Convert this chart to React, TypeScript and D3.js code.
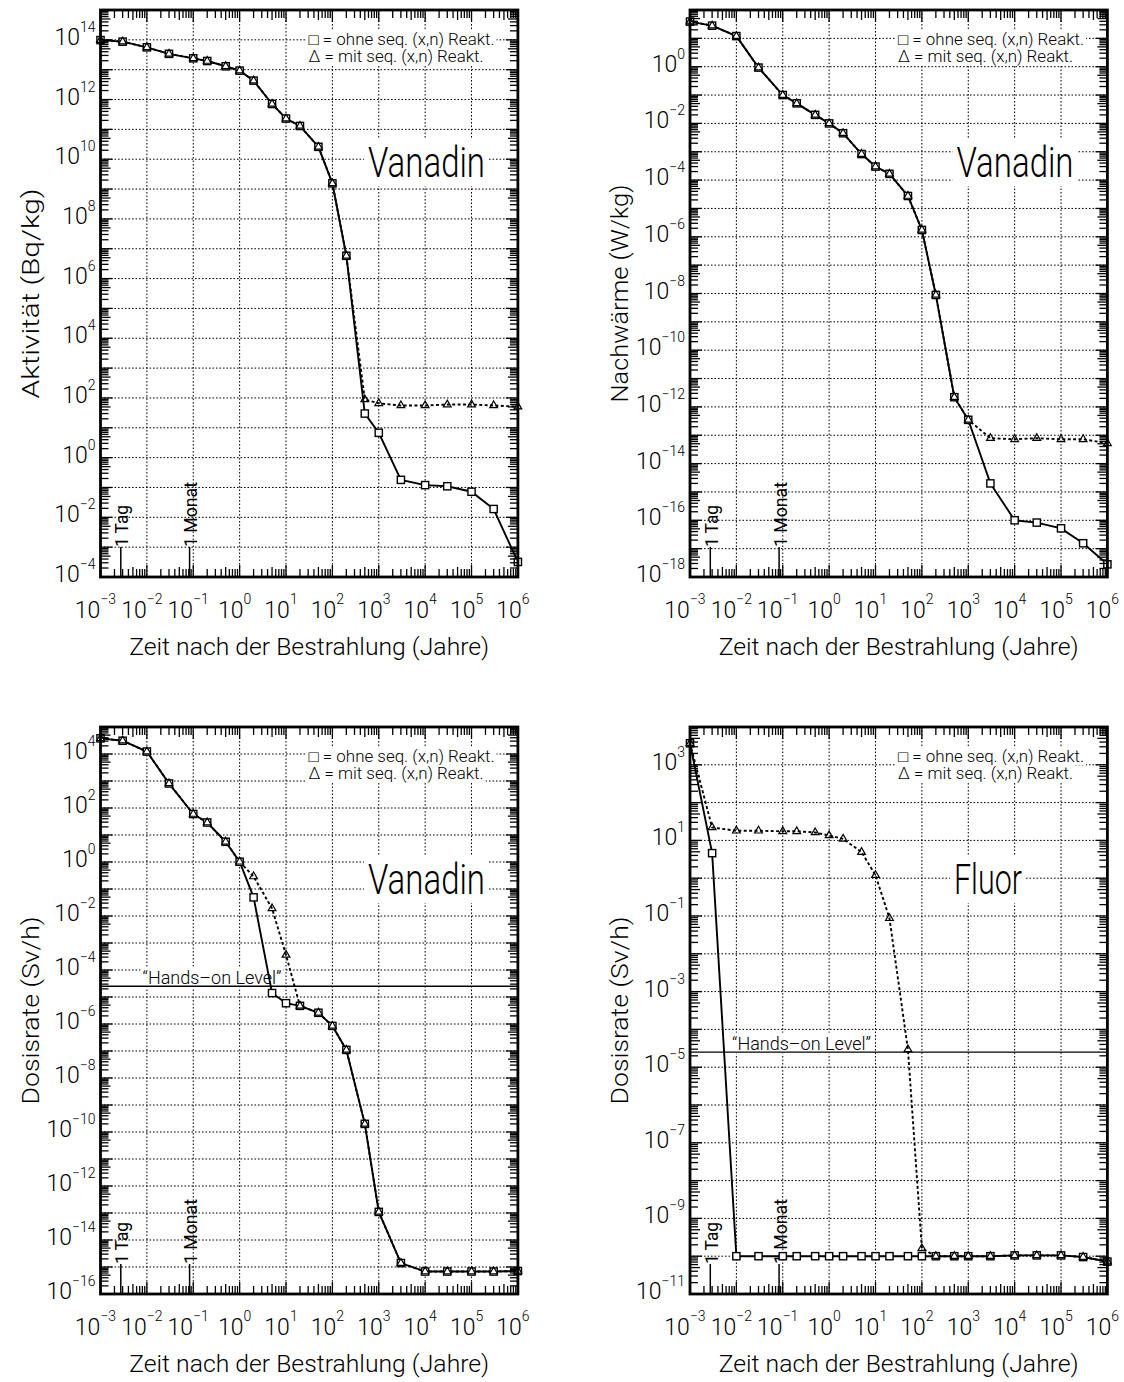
import React, { useEffect, useRef } from "react";
import * as d3 from "d3";

// Zeitpunkte nach der Bestrahlung (Jahre) - gleich fuer alle vier Bilder
const times = [1e-3, 3e-3, 1e-2, 3e-2, 0.1, 0.2, 0.5, 1, 2, 5, 10, 20, 50, 100, 200, 500, 1e3, 3e3, 1e4, 3e4, 1e5, 3e5, 1e6];
const xExponents = [-3, -2, -1, 0, 1, 2, 3, 4, 5, 6];

// Vanadin, Aktivitaet (Bq/kg)
const aktOhne = [9.8e13, 8.7e13, 5.6e13, 3.4e13, 2.4e13, 1.95e13, 1.3e13, 9.3e12, 4.3e12, 7.1e11, 2.3e11, 1.3e11, 2.6e10, 1.55e9, 5.8e6, 30, 6.8, 0.18, 0.12, 0.11, 0.072, 0.019, 3.2e-4];
const aktMit = [9.8e13, 8.7e13, 5.6e13, 3.4e13, 2.4e13, 1.95e13, 1.3e13, 9.3e12, 4.3e12, 7.1e11, 2.3e11, 1.3e11, 2.6e10, 1.55e9, 5.8e6, 89, 66, 56, 56, 60, 60, 56, 51];
const aktYLabels = [14, 12, 10, 8, 6, 4, 2, 0, -2, -4];

// Vanadin, Nachwaerme (W/kg)
const nwOhne = [39, 28, 12, 0.93, 0.1, 0.051, 0.02, 0.01, 4.5e-3, 8.3e-4, 3.0e-4, 1.66e-4, 2.75e-5, 1.74e-6, 8.9e-9, 2.2e-12, 3.5e-13, 2.0e-15, 1.0e-16, 8.3e-17, 5.2e-17, 1.55e-17, 2.8e-18];
const nwMit = [39, 28, 12, 0.93, 0.1, 0.051, 0.02, 0.01, 4.5e-3, 8.3e-4, 3.0e-4, 1.66e-4, 2.75e-5, 1.74e-6, 8.9e-9, 2.2e-12, 3.5e-13, 7.9e-14, 7.2e-14, 7.9e-14, 7.2e-14, 7.2e-14, 5.2e-14];
const nwYLabels = [0, -2, -4, -6, -8, -10, -12, -14, -16, -18];

// Vanadin, Dosisrate (Sv/h)
const vDoseOhne = [3.8e4, 3.1e4, 1.23e4, 810, 60, 29, 5.6, 1.02, 0.049, 1.4e-5, 5.9e-6, 4.7e-6, 2.6e-6, 8.5e-7, 1.1e-7, 2.0e-10, 1.1e-13, 1.4e-15, 6.8e-16, 6.8e-16, 6.8e-16, 6.8e-16, 7.1e-16];
const vDoseMit = [3.8e4, 3.1e4, 1.23e4, 810, 60, 29, 5.6, 1.02, 0.29, 0.019, 3.6e-4, 4.7e-6, 2.6e-6, 8.5e-7, 1.1e-7, 2.0e-10, 1.1e-13, 1.4e-15, 6.8e-16, 6.8e-16, 6.8e-16, 6.8e-16, 7.1e-16];
const vDoseYLabels = [4, 2, 0, -2, -4, -6, -8, -10, -12, -14, -16];

// Fluor, Dosisrate (Sv/h)
const fDoseOhne = [3700, 4.6, 1.0e-10, 1.0e-10, 1.0e-10, 1.0e-10, 1.0e-10, 1.0e-10, 1.0e-10, 1.0e-10, 1.0e-10, 1.0e-10, 1.0e-10, 1.0e-10, 1.0e-10, 1.0e-10, 1.0e-10, 1.0e-10, 1.05e-10, 1.05e-10, 1.05e-10, 0.95e-10, 7.2e-11];
const fDoseMit = [3700, 22, 18, 18, 17.4, 17.4, 16.2, 13.5, 11, 4.9, 1.2, 0.087, 2.95e-5, 1.6e-10, 1.0e-10, 1.0e-10, 1.0e-10, 1.0e-10, 1.05e-10, 1.05e-10, 1.05e-10, 0.95e-10, 7.2e-11];
const fDoseYLabels = [3, 1, -1, -3, -5, -7, -9, -11];

const handsOnLevel = 2.5e-5;
const oneDay = 1 / 365;
const oneMonth = 1 / 12;

const FONT = "Roboto, 'Liberation Sans', Arial, sans-serif";
const PW = 417.4;
const PH = 567;

const panels = [
    { left: 100.5, top: 10, yDomain: [1e-4, 1e15], yLabels: aktYLabels, ohne: aktOhne, mit: aktMit, yTitle: "Aktivität (Bq/kg)", titleLen: 210, name: "Vanadin", nameDx: 326, nameLen: 117, handsOn: false },
    { left: 690, top: 10, yDomain: [1e-18, 1e2], yLabels: nwYLabels, ohne: nwOhne, mit: nwMit, yTitle: "Nachwärme (W/kg)", titleLen: 218, name: "Vanadin", nameDx: 325, nameLen: 117, handsOn: false },
    { left: 100.5, top: 727, yDomain: [1e-16, 1e5], yLabels: vDoseYLabels, ohne: vDoseOhne, mit: vDoseMit, yTitle: "Dosisrate (Sv/h)", titleLen: 188, name: "Vanadin", nameDx: 326, nameLen: 117, handsOn: true },
    { left: 690, top: 727, yDomain: [1e-11, 1e4], yLabels: fDoseYLabels, ohne: fDoseOhne, mit: fDoseMit, yTitle: "Dosisrate (Sv/h)", titleLen: 188, name: "Fluor", nameDx: 298, nameLen: 68, handsOn: true },
];

const sup = (e: number) => (e < 0 ? "\u2212" + Math.abs(e) : String(e));

function knockout(g: any, text: any, pad = 2) {
    const b = text.node().getBBox();
    g.insert("rect", () => text.node())
        .attr("x", b.x - pad)
        .attr("y", b.y + 1)
        .attr("width", b.width + pad * 2)
        .attr("height", b.height - 2)
        .attr("fill", "#fff");
}

function drawPanel(svg: any, p: any) {
    const right = p.left + PW;
    const bottom = p.top + PH;
    const x = d3.scaleLog().domain([1e-3, 1e6]).range([p.left, right]);
    const y = d3.scaleLog().domain(p.yDomain).range([bottom, p.top]);
    const lo = Math.round(Math.log10(p.yDomain[0]));
    const hi = Math.round(Math.log10(p.yDomain[1]));

    const g = svg.append("g").attr("font-family", FONT).attr("font-weight", 300).attr("fill", "#000");

    // dotted grid every decade
    g.selectAll(null).data(d3.range(-2, 6)).join("line")
        .attr("x1", (e: number) => x(10 ** e)).attr("x2", (e: number) => x(10 ** e))
        .attr("y1", p.top).attr("y2", bottom)
        .attr("stroke", "#000").attr("stroke-width", 1).attr("stroke-dasharray", "1.6,1.9");
    g.selectAll(null).data(d3.range(lo + 1, hi)).join("line")
        .attr("y1", (e: number) => y(10 ** e)).attr("y2", (e: number) => y(10 ** e))
        .attr("x1", p.left).attr("x2", right)
        .attr("stroke", "#000").attr("stroke-width", 1).attr("stroke-dasharray", "1.6,1.9");

    // legend
    const leg1 = g.append("text").attr("x", p.left + 208).attr("y", p.top + 35)
        .attr("font-size", 16).attr("textLength", 186).attr("lengthAdjust", "spacingAndGlyphs")
        .text("\u25A1 = ohne seq. (x,n) Reakt.");
    knockout(g, leg1);
    const leg2 = g.append("text").attr("x", p.left + 208).attr("y", p.top + 52)
        .attr("font-size", 16).attr("textLength", 175).attr("lengthAdjust", "spacingAndGlyphs")
        .text("\u0394 = mit seq. (x,n) Reakt.");
    knockout(g, leg2);

    // element name
    const nm = g.append("text").attr("x", p.left + p.nameDx).attr("y", p.top + 167)
        .attr("text-anchor", "middle").attr("font-size", 42).attr("font-weight", 300)
        .attr("textLength", p.nameLen).attr("lengthAdjust", "spacingAndGlyphs")
        .text(p.name);
    knockout(g, nm, 4);

    // hands-on level
    if (p.handsOn) {
        const hy = y(handsOnLevel);
        const ht = g.append("text").attr("x", p.left + 42).attr("y", hy - 2.5)
            .attr("font-size", 19).attr("textLength", 139).attr("lengthAdjust", "spacingAndGlyphs")
            .text("\u201CHands\u2013on Level\u201D");
        knockout(g, ht, 2);
        g.append("line").attr("x1", p.left).attr("x2", right).attr("y1", hy).attr("y2", hy)
            .attr("stroke", "#000").attr("stroke-width", 1.4);
    }

    // 1 Tag / 1 Monat
    [[oneDay, "1 Tag", 42], [oneMonth, "1 Monat", 65]].forEach(([t, label, len]: any) => {
        const tx = x(t);
        g.append("line").attr("x1", tx).attr("x2", tx).attr("y1", bottom).attr("y2", bottom - 30)
            .attr("stroke", "#000").attr("stroke-width", 1.5);
        g.append("text").attr("transform", `translate(${tx + 7.5},${bottom - 30}) rotate(-90)`)
            .attr("font-size", 19).attr("font-weight", 400)
            .attr("textLength", len).attr("lengthAdjust", "spacingAndGlyphs")
            .text(label);
    });

    // data lines
    const line = d3.line<number>().x((_d, i) => x(times[i])).y(d => y(d));
    g.append("path").attr("d", line(p.mit)).attr("fill", "none").attr("stroke", "#000")
        .attr("stroke-width", 1.9).attr("stroke-dasharray", "3,2.4");
    g.append("path").attr("d", line(p.ohne)).attr("fill", "none").attr("stroke", "#000")
        .attr("stroke-width", 1.9);

    // markers
    g.selectAll(null).data(p.ohne).join("rect")
        .attr("x", (_d: number, i: number) => x(times[i]) - 3.6)
        .attr("y", (d: number) => y(d) - 3.6)
        .attr("width", 7.2).attr("height", 7.2)
        .attr("fill", "#fff").attr("stroke", "#000").attr("stroke-width", 1.4);
    const tri = d3.symbol().type(d3.symbolTriangle).size(26);
    g.selectAll(null).data(p.mit).join("path")
        .attr("transform", (d: number, i: number) => `translate(${x(times[i])},${y(d)})`)
        .attr("d", tri)
        .attr("fill", "none").attr("stroke", "#000").attr("stroke-width", 1.2);

    // minor/major ticks on all four sides
    const xt: number[] = [];
    for (let e = -3; e < 6; e++) for (let k = 1; k <= 9; k++) xt.push(k * 10 ** e);
    const yt: number[] = [];
    for (let e = lo; e < hi; e++) for (let k = 1; k <= 9; k++) yt.push(k * 10 ** e);
    const lenOf = (v: number) => {
        const m = Math.round(v / 10 ** Math.floor(Math.log10(v) + 1e-9));
        return m === 1 ? 12 : m === 5 ? 10 : 8;
    };
    const ticks = g.append("g").attr("stroke", "#000").attr("stroke-width", 1.3);
    ticks.selectAll(null).data(xt).join("line")
        .attr("x1", (v: number) => x(v)).attr("x2", (v: number) => x(v))
        .attr("y1", bottom).attr("y2", (v: number) => bottom - lenOf(v));
    ticks.selectAll(null).data(xt).join("line")
        .attr("x1", (v: number) => x(v)).attr("x2", (v: number) => x(v))
        .attr("y1", p.top).attr("y2", (v: number) => p.top + lenOf(v));
    ticks.selectAll(null).data(yt).join("line")
        .attr("y1", (v: number) => y(v)).attr("y2", (v: number) => y(v))
        .attr("x1", p.left).attr("x2", (v: number) => p.left + lenOf(v));
    ticks.selectAll(null).data(yt).join("line")
        .attr("y1", (v: number) => y(v)).attr("y2", (v: number) => y(v))
        .attr("x1", right).attr("x2", (v: number) => right - lenOf(v));

    // frame
    g.append("rect").attr("x", p.left).attr("y", p.top).attr("width", PW).attr("height", PH)
        .attr("fill", "none").attr("stroke", "#000").attr("stroke-width", 2.8);

    // x tick labels
    const xl = g.selectAll(null).data(xExponents).join("text")
        .attr("x", (e: number) => x(10 ** e) - 5).attr("y", bottom + 41)
        .attr("text-anchor", "middle").attr("font-size", 23);
    xl.append("tspan").text("10");
    xl.append("tspan").attr("dy", -14).attr("font-size", 14).text((e: number) => sup(e));

    // y tick labels
    const yl = g.selectAll(null).data(p.yLabels).join("text")
        .attr("x", p.left - 5).attr("y", (e: number) => y(10 ** e) + 5)
        .attr("text-anchor", "end").attr("font-size", 23);
    yl.append("tspan").text("10");
    yl.append("tspan").attr("dy", -13).attr("font-size", 14).text((e: number) => sup(e));

    // axis titles
    g.append("text").attr("x", p.left + PW / 2).attr("y", bottom + 78)
        .attr("text-anchor", "middle").attr("font-size", 23)
        .attr("textLength", 360).attr("lengthAdjust", "spacingAndGlyphs")
        .text("Zeit nach der Bestrahlung (Jahre)");
    g.append("text").attr("transform", `translate(${p.left - 62},${p.top + PH / 2}) rotate(-90)`)
        .attr("text-anchor", "middle").attr("font-size", 23)
        .attr("textLength", p.titleLen).attr("lengthAdjust", "spacingAndGlyphs")
        .text(p.yTitle);
}

const App = () => {
    const ref = useRef<SVGSVGElement>(null);

    useEffect(() => {
        if (!ref.current) return;
        const svg = d3.select(ref.current);
        svg.selectAll("*").remove();
        svg.append("rect").attr("width", 1124).attr("height", 1382).attr("fill", "#fff");
        panels.forEach(p => drawPanel(svg, p));
    }, []);

    return (
        <svg ref={ref} width={1124} height={1382}
             style={{ position: "absolute", left: 0, top: 0, background: "#fff" }}></svg>
    );
};

export default App;
